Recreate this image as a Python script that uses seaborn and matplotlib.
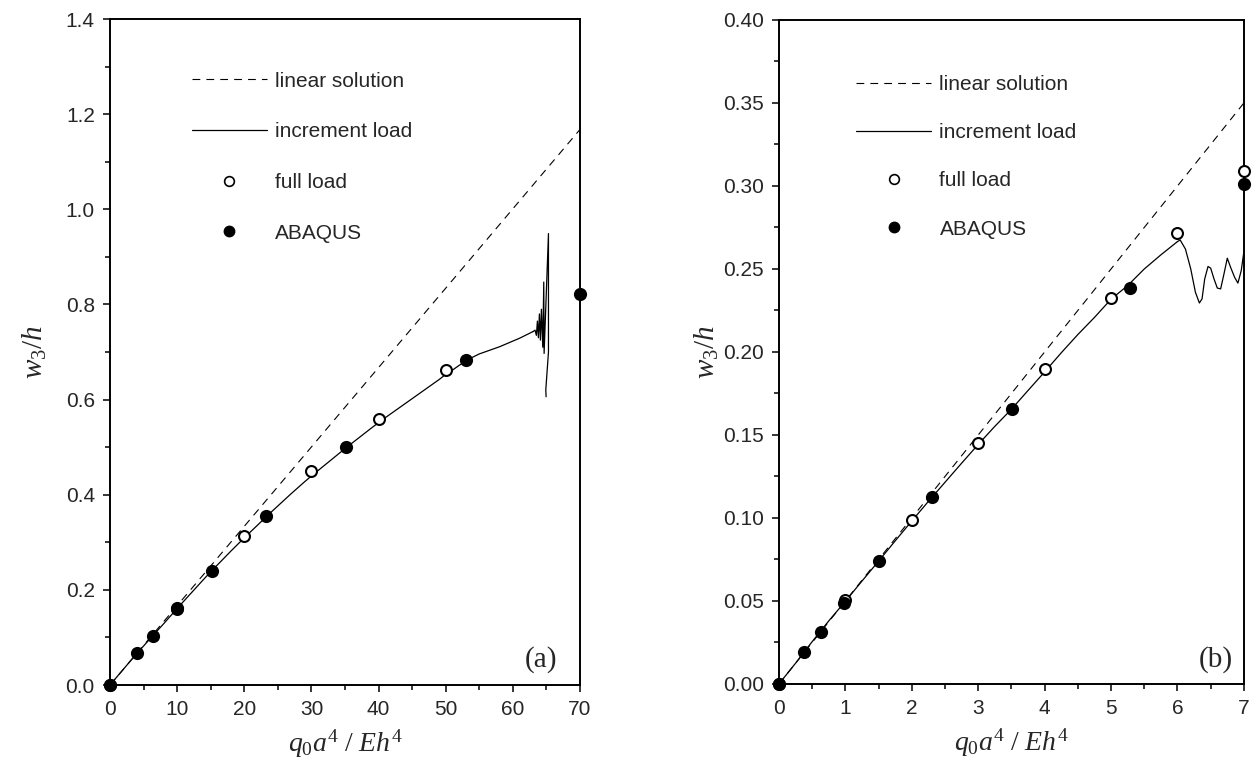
import matplotlib
matplotlib.use('Agg')
import matplotlib.pyplot as plt
import seaborn as sns
from matplotlib.ticker import MultipleLocator, FormatStrFormatter
from matplotlib.lines import Line2D

# ---- panel (a) data ----
lin_a_x = [0, 70]
lin_a_y = [0, 1.168]

inc_a_x = list(range(0, 64))
inc_a_y = [0.0, 0.0167, 0.0333, 0.050, 0.0665, 0.082, 0.098, 0.1135, 0.129, 0.145,
           0.161, 0.1765, 0.192, 0.2075, 0.223, 0.238, 0.2525, 0.267, 0.2815, 0.2955,
           0.3095, 0.323, 0.3365, 0.350, 0.3635, 0.3765, 0.3895, 0.4025, 0.415, 0.4275,
           0.4395, 0.451, 0.4625, 0.474, 0.4855, 0.497, 0.508, 0.519, 0.530, 0.541,
           0.5515, 0.562, 0.572, 0.582, 0.592, 0.602, 0.612, 0.622, 0.632, 0.642,
           0.653, 0.662, 0.672, 0.681, 0.689, 0.696, 0.701, 0.706, 0.711, 0.717,
           0.723, 0.729, 0.736, 0.743]

osc_a_x = [63.0, 63.3, 63.5, 63.65, 63.8, 63.95, 64.1, 64.25, 64.45, 64.6, 64.65, 65.3, 65.3, 64.9, 64.95]
osc_a_y = [0.743, 0.746, 0.735, 0.765, 0.730, 0.780, 0.725, 0.790, 0.710, 0.847, 0.697, 0.949, 0.700, 0.620, 0.606]

full_a_x = [0, 10, 20, 30, 40, 50]
full_a_y = [0.0, 0.160, 0.313, 0.4496, 0.5595, 0.6618]

aba_a_x = [0, 3.97, 6.36, 10, 15.15, 23.3, 35.1, 53.0, 70]
aba_a_y = [0.0, 0.0666, 0.1036, 0.161, 0.240, 0.3557, 0.5006, 0.683, 0.822]

# ---- panel (b) data ----
lin_b_x = [0, 7]
lin_b_y = [0, 0.35]

inc_b_x = [0, 0.25, 0.5, 0.75, 1.0, 1.25, 1.5, 1.75, 2.0, 2.25, 2.5, 2.75, 3.0,
           3.25, 3.5, 3.75, 4.0, 4.25, 4.5, 4.75, 5.0, 5.25, 5.5, 5.75, 6.0]
inc_b_y = [0.0, 0.0125, 0.0255, 0.038, 0.0498, 0.062, 0.074, 0.0862, 0.0982, 0.110,
           0.1215, 0.133, 0.1443, 0.1552, 0.1655, 0.1768, 0.1880, 0.1995, 0.2105, 0.2208,
           0.2318, 0.2400, 0.2500, 0.2585, 0.2665]

osc_b_x = [6.0, 6.04, 6.12, 6.2, 6.27, 6.33, 6.37, 6.41, 6.46, 6.5, 6.55, 6.6, 6.65,
           6.7, 6.75, 6.8, 6.86, 6.91, 6.96, 7.0]
osc_b_y = [0.2665, 0.2675, 0.262, 0.250, 0.236, 0.2295, 0.232, 0.244, 0.2515, 0.2505,
           0.244, 0.2385, 0.238, 0.247, 0.2565, 0.251, 0.245, 0.2415, 0.249, 0.2605]

full_b_x = [0, 1, 2, 3, 4, 5, 6, 7]
full_b_y = [0.0, 0.0505, 0.0988, 0.145, 0.1898, 0.2323, 0.2717, 0.3092]

aba_b_x = [0, 0.381, 0.627, 0.984, 1.51, 2.3, 3.51, 5.28, 7]
aba_b_y = [0.0, 0.0191, 0.0315, 0.049, 0.0741, 0.1124, 0.1655, 0.2387, 0.301]

legend_labels = ['linear solution', 'increment load', 'full load', 'ABAQUS']

sns.set_style('ticks')
plt.rcParams['font.family'] = ['Liberation Sans', 'DejaVu Sans']
plt.rcParams['mathtext.fontset'] = 'custom'
plt.rcParams['mathtext.rm'] = 'Liberation Serif'
plt.rcParams['mathtext.it'] = 'Liberation Serif:italic'

dash = (0, (7, 5.5))

fig = plt.figure(figsize=(12.59, 7.77), dpi=100)
ax_a = fig.add_axes([0.0874, 0.1184, 0.3733, 0.8571])
ax_b = fig.add_axes([0.6187, 0.1197, 0.3693, 0.8546])


def draw_panel(ax, lin_x, lin_y, inc_x, inc_y, osc_x, osc_y, full_x, full_y, aba_x, aba_y):
    sns.lineplot(x=lin_x, y=lin_y, ax=ax, color='black', linewidth=0.8, linestyle=dash,
                 sort=False, estimator=None)
    sns.lineplot(x=inc_x, y=inc_y, ax=ax, color='black', linewidth=0.9,
                 sort=False, estimator=None)
    sns.lineplot(x=osc_x, y=osc_y, ax=ax, color='black', linewidth=0.9,
                 sort=False, estimator=None)
    sns.scatterplot(x=full_x, y=full_y, ax=ax, s=62, color='white', edgecolor='black',
                    linewidth=1.5, zorder=4, clip_on=False)
    sns.scatterplot(x=aba_x, y=aba_y, ax=ax, s=90, color='black', edgecolor='black',
                    linewidth=0, zorder=5, clip_on=False)


draw_panel(ax_a, lin_a_x, lin_a_y, inc_a_x, inc_a_y, osc_a_x, osc_a_y,
           full_a_x, full_a_y, aba_a_x, aba_a_y)
draw_panel(ax_b, lin_b_x, lin_b_y, inc_b_x, inc_b_y, osc_b_x, osc_b_y,
           full_b_x, full_b_y, aba_b_x, aba_b_y)

ax_a.set_xlim(0, 70)
ax_a.set_ylim(0, 1.4)
ax_a.xaxis.set_major_locator(MultipleLocator(10))
ax_a.xaxis.set_minor_locator(MultipleLocator(5))
ax_a.yaxis.set_major_locator(MultipleLocator(0.2))
ax_a.yaxis.set_minor_locator(MultipleLocator(0.1))
ax_a.yaxis.set_major_formatter(FormatStrFormatter('%.1f'))

ax_b.set_xlim(0, 7)
ax_b.set_ylim(0, 0.4)
ax_b.xaxis.set_major_locator(MultipleLocator(1))
ax_b.xaxis.set_minor_locator(MultipleLocator(0.5))
ax_b.yaxis.set_major_locator(MultipleLocator(0.05))
ax_b.yaxis.set_minor_locator(MultipleLocator(0.025))
ax_b.yaxis.set_major_formatter(FormatStrFormatter('%.2f'))

handles = [
    Line2D([], [], color='black', linewidth=0.8, linestyle=dash),
    Line2D([], [], color='black', linewidth=0.9),
    Line2D([], [], linestyle='none', marker='o', markersize=7, markerfacecolor='white',
           markeredgecolor='black', markeredgewidth=1.2),
    Line2D([], [], linestyle='none', marker='o', markersize=7.5, markerfacecolor='black',
           markeredgecolor='black'),
]

panels = [(ax_a, 0.174, 0.921, '(a)', 0.917, 12, 1.52),
          (ax_b, 0.166, 0.917, '(b)', 0.94, 1, 1.4)]
for ax, lx, ly, tag, tx, ypad, lsp in panels:
    for side in ['top', 'right', 'left', 'bottom']:
        ax.spines[side].set_linewidth(1.4)
        ax.spines[side].set_color('black')
    ax.tick_params(which='both', direction='out', color='black', width=1.1,
                   top=False, right=False, labelsize=15, pad=6)
    ax.tick_params(which='major', length=5)
    ax.tick_params(which='minor', length=3.5)
    ax.set_xlabel(r'$q_0a^4\ /\ Eh^4$', fontsize=20, labelpad=6)
    ax.set_ylabel(r'$w_3/h$', fontsize=21, labelpad=ypad)
    ax.legend(handles, legend_labels, loc='upper left', bbox_to_anchor=(lx, ly),
              frameon=False, fontsize=15, handlelength=3.6, handletextpad=0.4,
              labelspacing=lsp, borderpad=0, borderaxespad=0)
    ax.text(tx, 0.0375, tag, transform=ax.transAxes, ha='center', va='center',
            fontsize=21, family='Liberation Serif')

fig.savefig('out.png', dpi=100)
